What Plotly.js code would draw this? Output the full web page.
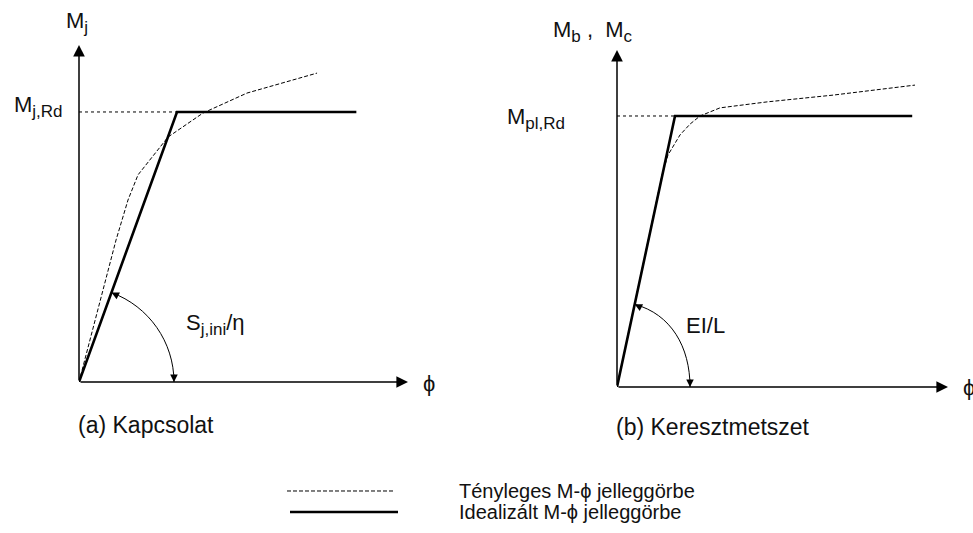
<!DOCTYPE html>
<html>
<head>
<meta charset="utf-8">
<script src="https://cdn.plot.ly/plotly-3.0.1.min.js"></script>
<style>html,body{margin:0;padding:0;background:#fff;}#chart{width:973px;height:533px;}</style>
</head>
<body>
<div id="chart"></div>
<script>
// (a) Kapcsolat – normalised rotation phi/phi_Rd and moment M/M_j,Rd
const phiIdealA = [0, 1, 2.83];
const mIdealA = [0, 1, 1];
const phiActualA = [0, 0.112, 0.245, 0.378, 0.5, 0.602, 0.908, 1.265, 1.714, 2.429];
const mActualA = [0, 0.156, 0.341, 0.526, 0.674, 0.767, 0.907, 0.996, 1.070, 1.144];
// (b) Keresztmetszet – normalised rotation and moment M/M_pl,Rd
const phiIdealB = [0, 1, 5.09];
const mIdealB = [0, 1, 1];
const phiActualB = [0, 0.35, 0.63, 0.776, 0.879, 1.086, 1.259, 1.431, 1.776, 2.586, 3.724, 5.138];
const mActualB = [0, 0.358, 0.642, 0.782, 0.856, 0.930, 0.970, 1.0, 1.030, 1.052, 1.077, 1.114];
// texts
const panelCaptions = ["(a) Kapcsolat", "(b) Keresztmetszet"];
const yLabels = [["M", "j"], ["M", "b", " ,&nbsp; M", "c"]];
const levelLabels = [["M", "j,Rd"], ["M", "pl,Rd"]];
const stiffLabels = ["S<sub><span style=\"font-size:17px\">j,ini</span></sub>/η", "EI/L"];
const xLabel = "ϕ";
const legendLabels = ["Tényleges M-ϕ jelleggörbe", "Idealizált M-ϕ jelleggörbe"];

const FONT = "Liberation Sans, Arial, sans-serif";
const BLACK = "#000";
const fs = 22;

// build "main<sub>sub</sub>" strings with a larger subscript size
function withSubs(parts) {
  return parts.map((p, i) => i % 2 ? "<sub><span style=\"font-size:17px\">" + p + "</span></sub>" : p).join("");
}

const traces = [
  {x: phiActualA, y: mActualA, xaxis: "x", yaxis: "y", mode: "lines", cliponaxis: false,
   line: {color: BLACK, width: 1, dash: "4px,2px"}, hoverinfo: "skip"},
  {x: phiIdealA, y: mIdealA, xaxis: "x", yaxis: "y", mode: "lines", cliponaxis: false,
   line: {color: BLACK, width: 2.6}, hoverinfo: "skip"},
  {x: phiActualB, y: mActualB, xaxis: "x2", yaxis: "y2", mode: "lines", cliponaxis: false,
   line: {color: BLACK, width: 1, dash: "4px,2px"}, hoverinfo: "skip"},
  {x: phiIdealB, y: mIdealB, xaxis: "x2", yaxis: "y2", mode: "lines", cliponaxis: false,
   line: {color: BLACK, width: 2.6}, hoverinfo: "skip"}
];

const xMaxA = 3.357, yMaxA = 1.248, xMaxB = 5.707, yMaxB = 1.2435;
const hidden = {visible: false, fixedrange: true};

function axisArrow(xr, yr, x, y) {
  return {xref: xr, yref: yr, axref: xr, ayref: yr, x: x, y: y, ax: 0, ay: 0, text: "",
    showarrow: true, arrowhead: 2, arrowsize: 1.55, arrowwidth: 1.5, arrowcolor: BLACK, standoff: 0};
}
function arcHead(xr, yr, x, y, ax, ay) {
  return {xref: xr, yref: yr, x: x, y: y, ax: ax, ay: ay, text: "", showarrow: true,
    arrowhead: 2, arrowsize: 1.5, arrowwidth: 1, arrowcolor: BLACK, standoff: 0};
}
function label(text, x, y, size) {
  return {xref: "paper", yref: "paper", x: x, y: y, xanchor: "left", yanchor: "middle",
    text: text, showarrow: false, font: {family: FONT, size: size || fs, color: "#111"}};
}

const annotations = [
  axisArrow("x", "y", xMaxA, 0), axisArrow("x", "y", 0, yMaxA),
  axisArrow("x2", "y2", xMaxB, 0), axisArrow("x2", "y2", 0, yMaxB),
  arcHead("x", "y", 0.332, 0.331, 8, 4), arcHead("x", "y", 0.969, 0, 0, -9),
  arcHead("x2", "y2", 0.305, 0.305, 8, 4), arcHead("x2", "y2", 1.259, 0, 0, -9),
  label(withSubs(yLabels[0]), 64/973, 0.957),
  label(withSubs(levelLabels[0]), 12/973, 0.800),
  label(xLabel, 421/973, 0.2814),
  label(stiffLabels[0], 184/973, 0.392),
  label(panelCaptions[0], 76/973, 0.2026, 23),
  label(withSubs(yLabels[1]), 551/973, 0.94),
  label(withSubs(levelLabels[1]), 505/973, 0.777),
  label(stiffLabels[1], 684/973, 0.3884),
  label(xLabel, 961/973, 0.2739),
  label(panelCaptions[1], 614/973, 0.1989, 23),
  label(legendLabels[0], 457/973, 0.0788, 20),
  label(legendLabels[1], 457/973, 0.0394, 20)
];

const shapes = [
  {type: "line", xref: "x", yref: "y", x0: 0, x1: phiIdealA[1], y0: mIdealA[1], y1: mIdealA[1],
   line: {color: BLACK, width: 1, dash: "dot"}},
  {type: "line", xref: "x2", yref: "y2", x0: 0, x1: phiIdealB[1], y0: mIdealB[1], y1: mIdealB[1],
   line: {color: BLACK, width: 1, dash: "dot"}},
  {type: "path", xref: "x", yref: "y", path: "M 0.332,0.331 C 0.714,0.280 0.969,0.148 0.969,0",
   line: {color: BLACK, width: 1}},
  {type: "path", xref: "x2", yref: "y2", path: "M 0.305,0.305 C 0.931,0.269 1.259,0.148 1.259,0",
   line: {color: BLACK, width: 1}},
  {type: "line", xref: "paper", yref: "paper", x0: 287/973, x1: 393/973, y0: 0.0788, y1: 0.0788,
   line: {color: BLACK, width: 1, dash: "4px,2px"}},
  {type: "line", xref: "paper", yref: "paper", x0: 290/973, x1: 398/973, y0: 0.0394, y1: 0.0394,
   line: {color: BLACK, width: 2.6}}
];

const layout = {
  width: 973, height: 533, autosize: false,
  margin: {l: 0, r: 0, t: 0, b: 0, pad: 0},
  paper_bgcolor: "#fff", plot_bgcolor: "#fff",
  showlegend: false,
  xaxis: Object.assign({domain: [79/973, 408/973], range: [0, xMaxA]}, hidden),
  yaxis: Object.assign({domain: [151/533, 488/533], range: [0, yMaxA]}, hidden),
  xaxis2: Object.assign({domain: [617/973, 948/973], range: [0, xMaxB]}, hidden),
  yaxis2: Object.assign({domain: [146/533, 483/533], range: [0, yMaxB]}, hidden),
  annotations: annotations,
  shapes: shapes,
  font: {family: FONT, color: BLACK}
};

Plotly.newPlot("chart", traces, layout, {staticPlot: true, displayModeBar: false});
</script>
</body>
</html>
